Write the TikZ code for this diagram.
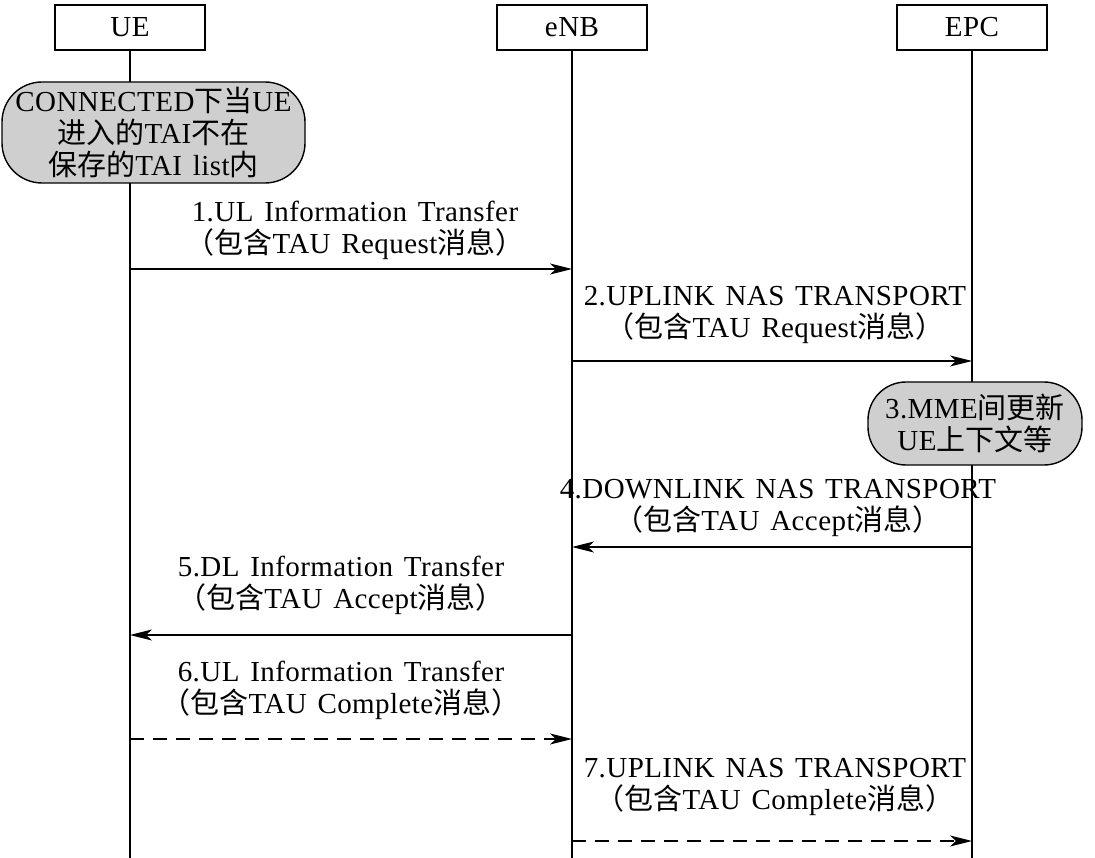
\documentclass[tikz,border=0pt]{standalone}
\usepackage{fontspec}
\setmainfont[LetterSpace=1.5,WordSpace=1.4]{Liberation Serif}
\newfontfamily\cjk{Noto Sans CJK SC}
\newcommand{\zh}[1]{{\cjk #1}}
\usetikzlibrary{arrows.meta,positioning}

\begin{document}
\begin{tikzpicture}[
    x=1pt,y=-1pt,
    every node/.style={font=\fontsize{29}{32}\selectfont},
    entity/.style={draw,line width=1.4pt,minimum width=150pt,minimum height=45pt,inner sep=0pt},
    state/.style={draw,line width=1.4pt,fill=black!19,align=center,inner sep=0pt},
    msglabel/.style={align=center,inner sep=0pt},
    msg/.style={line width=1.2pt,-{Stealth[length=22pt,width=11pt,inset=6pt]}},
    lifeline/.style={line width=1.2pt}]
  \useasboundingbox (0,0) rectangle (1095,858);
  % entities
  \node[entity] (ue) at (130,27.5) {UE};
  \node[entity] (enb) at (572,27.5) {eNB};
  \node[entity] (epc) at (972,27.5) {EPC};
  \coordinate (ueend) at (130,858);
  \coordinate (enbend) at (572,858);
  \coordinate (epcend) at (972,858);
  % lifelines
  \draw[lifeline] (ue) -- (ueend);
  \draw[lifeline] (enb) -- (enbend);
  \draw[lifeline] (epc) -- (epcend);
  % states
  \node[state,rounded corners=40pt,minimum width=303pt,minimum height=101pt] (connected) at (153.5,132.5)
    {CONNECTED\zh{下当}UE\\\zh{进入的}TAI\zh{不在}\\\zh{保存的}TAI list\zh{内}};
  \node[state,rounded corners=38pt,minimum width=214pt,minimum height=83pt] (mme) at (975,423.5)
    {3.MME\zh{间更新}\\UE\zh{上下文等}};
  % messages
  \coordinate (m1s) at (130,269);  \coordinate (m1e) at (572,269);
  \coordinate (m2s) at (572,361);  \coordinate (m2e) at (972,361);
  \coordinate (m4s) at (972,547);  \coordinate (m4e) at (572,547);
  \coordinate (m5s) at (572,635);  \coordinate (m5e) at (130,635);
  \coordinate (m6s) at (130,739);  \coordinate (m6e) at (572,739);
  \coordinate (m7s) at (572,841);  \coordinate (m7e) at (972,841);
  \draw[msg] (m1s) -- (m1e);
  \draw[msg] (m2s) -- (m2e);
  \draw[msg] (m4s) -- (m4e);
  \draw[msg] (m5s) -- (m5e);
  \draw[msg,dashed,dash pattern=on 14pt off 9pt] (m6s) -- (m6e);
  \draw[msg,dashed,dash pattern=on 14pt off 9pt] (m7s) -- (m7e);
  % labels
  \node[msglabel] (l1) at (355,230) {1.UL Information Transfer\\\zh{（包含}TAU Request\zh{消息）}};
  \node[msglabel] (l2) at (775,315) {2.UPLINK NAS TRANSPORT\\\zh{（包含}TAU Request\zh{消息）}};
  \node[msglabel] (l4) at (778,508) {4.DOWNLINK NAS TRANSPORT\\\zh{（包含}TAU Accept\zh{消息）}};
  \node[msglabel] (l5) at (341,585) {5.DL Information Transfer\\\zh{（包含}TAU Accept\zh{消息）}};
  \node[msglabel] (l6) at (341,690) {6.UL Information Transfer\\\zh{（包含}TAU Complete\zh{消息）}};
  \node[msglabel] (l7) at (775,787) {7.UPLINK NAS TRANSPORT\\\zh{（包含}TAU Complete\zh{消息）}};
\end{tikzpicture}
\end{document}
